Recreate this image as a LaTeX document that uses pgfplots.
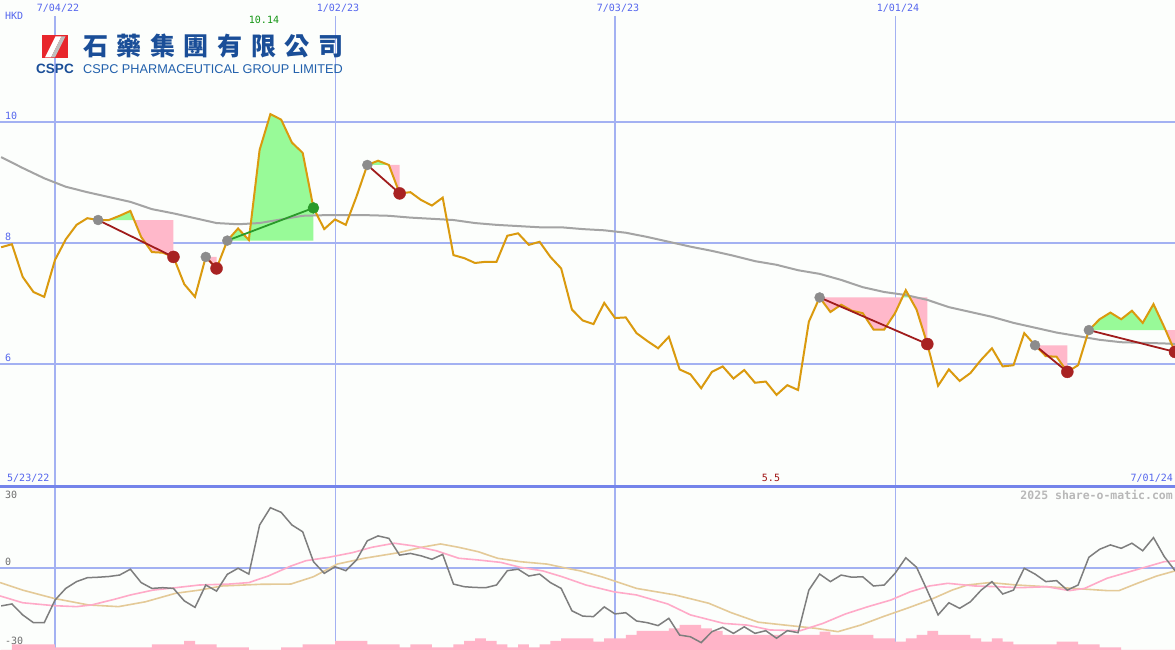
\documentclass[border=0pt]{standalone}
\usepackage{fontspec}
\setmainfont{Liberation Sans}
\newfontfamily\mono{DejaVu Sans Mono}
\newfontfamily\cjk{Noto Sans CJK TC}
\usepackage{pgfplots}
\pgfplotsset{compat=1.18}
\usepackage{pgfplotstable}

\definecolor{bgc}{HTML}{FCFEFC}
\definecolor{gridc}{HTML}{A3B1F2}
\definecolor{sepc}{HTML}{7484EA}
\definecolor{labc}{HTML}{5566EE}
\definecolor{pricec}{HTML}{DA9A0E}
\definecolor{mac}{HTML}{A4A4A4}
\definecolor{upc}{HTML}{98FA98}
\definecolor{dnc}{HTML}{FFB8CA}
\definecolor{sellc}{HTML}{A01C1C}
\definecolor{redm}{HTML}{A82222}
\definecolor{graym}{HTML}{8C8C8C}
\definecolor{buyc}{HTML}{2A9A2A}
\definecolor{oscc}{HTML}{7E7E7E}
\definecolor{osctwo}{HTML}{FFAAC8}
\definecolor{oscthree}{HTML}{E4CA98}
\definecolor{volc}{HTML}{FFB4C8}
\definecolor{logor}{HTML}{E8262C}
\definecolor{logob}{HTML}{1A4E98}
\definecolor{logobb}{HTML}{2160AC}

% weekly close, w = weeks after 7/04/22
\pgfplotstableread{
w p
-5 7.93
-4 7.98
-3 7.44
-2 7.19
-1 7.11
0 7.72
1 8.06
2 8.30
3 8.41
4 8.38
5 8.38
6 8.45
7 8.53
8 8.10
9 7.85
10 7.84
11 7.77
12 7.32
13 7.11
14 7.77
15 7.58
16 8.04
17 8.24
18 8.05
19 9.54
20 10.13
21 10.04
22 9.66
23 9.49
24 8.58
25 8.23
26 8.39
27 8.30
28 8.77
29 9.29
30 9.36
31 9.29
32 8.82
33 8.84
34 8.71
35 8.62
36 8.75
37 7.80
38 7.75
39 7.67
40 7.69
41 7.69
42 8.12
43 8.16
44 7.97
45 8.02
46 7.77
47 7.58
48 6.90
49 6.72
50 6.66
51 7.01
52 6.76
53 6.77
54 6.51
55 6.38
56 6.26
57 6.45
58 5.91
59 5.83
60 5.60
61 5.87
62 5.96
63 5.76
64 5.90
65 5.69
66 5.71
67 5.49
68 5.65
69 5.57
70 6.70
71 7.10
72 6.86
73 6.98
74 6.88
75 6.84
76 6.57
77 6.57
78 6.84
79 7.22
80 6.90
81 6.33
82 5.64
83 5.91
84 5.72
85 5.85
86 6.07
87 6.26
88 5.96
89 5.98
90 6.51
91 6.31
92 6.13
93 6.12
94 5.87
95 5.98
96 6.56
97 6.74
98 6.85
99 6.74
100 6.88
101 6.68
102 6.99
103 6.61
104 6.20
}\price

\pgfplotstableread{
w m
-5 9.42
-3 9.24
-1 9.07
1 8.93
3 8.84
5 8.76
7 8.68
9 8.56
11 8.49
13 8.41
15 8.33
17 8.31
19 8.33
21 8.39
23 8.45
25 8.46
27 8.46
29 8.46
31 8.45
33 8.42
35 8.40
37 8.38
39 8.33
41 8.30
43 8.28
45 8.26
47 8.26
49 8.23
51 8.21
53 8.17
55 8.10
57 8.02
59 7.94
61 7.87
63 7.79
65 7.70
67 7.64
69 7.55
71 7.49
73 7.39
75 7.27
77 7.19
79 7.14
81 7.06
83 6.94
85 6.86
87 6.78
89 6.68
91 6.60
93 6.52
95 6.46
97 6.40
99 6.36
101 6.35
103 6.34
104 6.33
}\mavg

\pgfplotstableread{
w o
-5 -15.6
-4 -14.8
-3 -19.3
-2 -22.5
-1 -22.5
0 -13.2
1 -8.4
2 -5.6
3 -4.0
4 -3.8
5 -3.5
6 -2.9
7 -0.5
8 -6.0
9 -8.4
10 -8.1
11 -8.4
12 -13.5
13 -16.2
14 -7.0
15 -9.5
16 -2.6
17 -0.1
18 -2.5
19 17.7
20 24.8
21 22.9
22 17.7
23 14.9
24 2.6
25 -2.2
26 0.5
27 -1.1
28 3.3
29 11.2
30 13.2
31 12.2
32 5.3
33 6.0
34 5.0
35 3.6
36 5.6
37 -6.6
38 -7.7
39 -8.0
40 -8.1
41 -7.0
42 -1.1
43 -0.5
44 -3.3
45 -2.5
46 -6.0
47 -8.4
48 -17.6
49 -19.8
50 -20.0
51 -16.0
52 -18.9
53 -18.4
54 -21.8
55 -22.5
56 -23.7
57 -20.7
58 -27.6
59 -28.3
60 -30.7
61 -26.2
62 -24.4
63 -26.9
64 -24.2
65 -26.9
66 -25.8
67 -28.9
68 -25.8
69 -26.6
70 -9.1
71 -2.5
72 -5.6
73 -2.9
74 -3.8
75 -3.6
76 -7.4
77 -7.0
78 -2.2
79 4.2
80 0.3
81 -9.3
82 -19.3
83 -14.3
84 -16.6
85 -13.9
86 -9.1
87 -5.6
88 -10.7
89 -9.1
90 -0.1
91 -2.5
92 -5.6
93 -5.2
94 -9.1
95 -7.0
96 4.4
97 7.7
98 9.5
99 8.1
100 10.2
101 7.1
102 12.5
103 4.7
104 -1.1
}\osc

\pgfplotstableread{
w s
-5.1 -11.5
-3.0 -14.3
-0.1 -15.5
2.0 -15.9
3.4 -15.2
5.5 -12.9
7.0 -11.1
9.1 -9.1
11.2 -8.1
13.4 -7.0
16.2 -6.6
18.0 -6.0
19.8 -3.3
21.9 0.8
23.3 3.0
25.4 4.4
27.6 6.3
29.4 8.5
31.5 10.2
33.3 9.1
35.4 7.1
37.5 4.0
39.3 3.3
41.4 2.3
43.2 0.3
45.3 -1.2
47.1 -3.6
49.3 -7.0
51.9 -9.8
54.0 -11.1
56.9 -14.8
59.0 -19.3
62.1 -22.8
64.3 -23.5
66.4 -25.5
69.2 -25.8
71.3 -22.8
73.4 -18.9
75.5 -15.9
77.6 -13.2
79.4 -9.8
81.2 -7.4
82.9 -6.3
85.4 -7.4
87.5 -7.7
89.6 -8.1
92.1 -7.7
94.2 -9.3
95.6 -8.4
97.7 -4.2
99.8 -1.5
101.6 0.8
103.0 2.6
104.0 2.9
}\sigfast

\pgfplotstableread{
w s
-5.1 -6.0
-3.0 -9.1
-0.1 -12.5
3.1 -15.2
5.9 -15.9
8.4 -13.9
11.2 -10.4
13.4 -9.1
15.5 -7.4
19.1 -6.7
21.9 -6.6
24.0 -3.6
26.2 1.6
28.7 4.0
31.9 6.3
34.0 8.5
35.8 9.9
37.5 8.5
39.3 6.7
41.1 4.0
43.2 2.6
45.7 1.6
47.5 -0.1
48.8 -1.2
50.9 -3.8
54.0 -8.4
57.6 -11.1
60.7 -14.5
62.8 -18.4
65.3 -22.3
67.8 -23.5
70.6 -24.8
72.7 -26.2
74.8 -23.5
76.9 -20.0
79.1 -16.6
81.2 -13.2
83.3 -9.1
84.7 -7.0
86.8 -6.0
89.3 -7.0
92.1 -7.7
94.6 -8.4
97.7 -9.3
98.8 -9.3
100.5 -6.3
102.3 -3.3
104.0 -1.2
}\sigslow

\pgfplotstableread{
w v
-5 0
-4 5.7
0 2.7
9 5.7
12 9
13 5.7
15 2.7
18 0
21 2.7
23 5.7
26 9
29 5.7
32 2.7
33 5.7
35 2.7
37 5.7
38 9
39 11.7
40 9
41 5.7
42 2.7
43 5.7
44 2.7
45 5.7
46 9
47 11.7
50 8.3
51 11.7
53 15
54 19
57 21.7
58 25
60 21.7
61 19
62 15
71 18.3
72 15
76 11.7
78 8.3
79 11.7
80 15
81 19
82 15
85 11.7
86 8.3
87 11.7
88 8.3
89 5.7
93 8.3
95 5.7
97 2.7
99 0
105 0
}\vol

\pgfplotsset{panel/.style={scale only axis, width=1175pt,
  xmin=-5.107, xmax=104.0, axis line style={draw=none},
  xtick=\empty, ytick=\empty, clip=true}}

\begin{document}
\begin{tikzpicture}
\fill[bgc] (0pt,0pt) rectangle (1175pt,650pt);

% volume panel (with vertical grid underneath)
\begin{axis}[panel, at={(0pt,0pt)}, anchor=south west, height=163pt, ymin=0, ymax=163]
  \draw[gridc, line width=1.5pt] (axis cs:0,0) -- (axis cs:0,163);
  \draw[gridc, line width=1pt] (axis cs:26,0) -- (axis cs:26,163);
  \draw[gridc, line width=1.5pt] (axis cs:52,0) -- (axis cs:52,163);
  \draw[gridc, line width=1pt] (axis cs:78,0) -- (axis cs:78,163);
  \addplot[const plot, fill=volc, draw=none] table[x=w,y=v]{\vol} \closedcycle;
\end{axis}

% oscillator panel
\begin{axis}[panel, at={(0pt,0pt)}, anchor=south west, height=163pt, ymin=-33.74, ymax=33.33]
  \draw[gridc, line width=2.5pt] (axis cs:-6,0) -- (axis cs:105,0);
  \addplot[oscthree, line width=1.6pt] table[x=w,y=s]{\sigslow};
  \addplot[osctwo, line width=1.6pt] table[x=w,y=s]{\sigfast};
  \addplot[oscc, line width=1.5pt] table[x=w,y=o]{\osc};
\end{axis}

% price panel
\begin{axis}[panel, at={(0pt,163pt)}, anchor=south west, height=487pt, ymin=3.967, ymax=12.017]
  \draw[gridc, line width=2.5pt] (axis cs:-6,10) -- (axis cs:105,10);
  \draw[gridc, line width=2.5pt] (axis cs:-6,8) -- (axis cs:105,8);
  \draw[gridc, line width=2.5pt] (axis cs:-6,6) -- (axis cs:105,6);
  \draw[gridc, line width=2pt] (axis cs:0,3.9) -- (axis cs:0,11.75);
  \draw[gridc, line width=1pt] (axis cs:26,3.9) -- (axis cs:26,11.75);
  \draw[gridc, line width=2pt] (axis cs:52,3.9) -- (axis cs:52,11.75);
  \draw[gridc, line width=1pt] (axis cs:78,3.9) -- (axis cs:78,11.75);

  % gain / loss areas against each entry level
  \addplot[fill=upc, draw=none] coordinates {(4,8.38)(5,8.38)(6,8.45)(7,8.53)(7.35,8.38)};
  \addplot[fill=dnc, draw=none] coordinates {(7.35,8.38)(8,8.10)(9,7.85)(10,7.84)(11,7.77)(11,8.38)};
  \addplot[fill=dnc, draw=none] coordinates {(14,7.77)(15,7.58)(15,7.77)};
  \addplot[fill=upc, draw=none] coordinates {(16,8.04)(17,8.24)(18,8.05)(19,9.54)(20,10.13)(21,10.04)(22,9.66)(23,9.49)(24,8.58)(24,8.04)};
  \addplot[fill=upc, draw=none] coordinates {(29,9.29)(30,9.36)(31,9.29)};
  \addplot[fill=dnc, draw=none] coordinates {(31,9.29)(32,8.82)(32,9.29)};
  \addplot[fill=dnc, draw=none] coordinates {(71,7.10)(72,6.86)(73,6.98)(74,6.88)(75,6.84)(76,6.57)(77,6.57)(78,6.84)(78.68,7.10)};
  \addplot[fill=upc, draw=none] coordinates {(78.68,7.10)(79,7.22)(79.38,7.10)};
  \addplot[fill=dnc, draw=none] coordinates {(79.38,7.10)(80,6.90)(81,6.33)(81,7.10)};
  \addplot[fill=dnc, draw=none] coordinates {(91,6.31)(92,6.13)(93,6.12)(94,5.87)(94,6.31)};
  \addplot[fill=upc, draw=none] coordinates {(96,6.56)(97,6.74)(98,6.85)(99,6.74)(100,6.88)(101,6.68)(102,6.99)(103,6.61)(103.12,6.56)};
  \addplot[fill=dnc, draw=none] coordinates {(103.12,6.56)(104,6.20)(104,6.56)};

  \addplot[mac, line width=2pt] table[x=w,y=m]{\mavg};
  \addplot[pricec, line width=2pt] table[x=w,y=p]{\price};

  % trade lines
  \addplot[sellc, line width=1.8pt] coordinates {(4,8.38)(11,7.77)};
  \addplot[sellc, line width=1.8pt] coordinates {(14,7.77)(15,7.58)};
  \addplot[buyc, line width=1.8pt] coordinates {(16,8.04)(24,8.58)};
  \addplot[sellc, line width=1.8pt] coordinates {(29,9.29)(32,8.82)};
  \addplot[sellc, line width=1.8pt] coordinates {(71,7.10)(81,6.33)};
  \addplot[sellc, line width=1.8pt] coordinates {(91,6.31)(94,5.87)};
  \addplot[sellc, line width=1.8pt] coordinates {(96,6.56)(104,6.20)};

  \addplot[only marks, mark=*, mark size=5pt, mark options={draw=graym, fill=graym}]
    coordinates {(4,8.38)(14,7.77)(16,8.04)(29,9.29)(71,7.10)(91,6.31)(96,6.56)};
  \addplot[only marks, mark=*, mark size=6pt, mark options={draw=redm, fill=redm}]
    coordinates {(11,7.77)(15,7.58)(32,8.82)(81,6.33)(94,5.87)(104,6.20)};
  \addplot[only marks, mark=*, mark size=5.5pt, mark options={draw=buyc, fill=buyc}]
    coordinates {(24,8.58)};
\end{axis}

% separator between panels
\draw[sepc, line width=3pt] (0pt,163pt) -- (1175pt,163pt);

% labels
\begin{scope}[every node/.style={inner sep=0pt, font=\mono\fontsize{10}{12}\selectfont, text=labc}]
  \node at (58pt,642pt) {7/04/22};
  \node at (338pt,642pt) {1/02/23};
  \node at (618pt,642pt) {7/03/23};
  \node at (898pt,642pt) {1/01/24};
  \node[anchor=west] at (5pt,634pt) {HKD};
  \node[anchor=west] at (5pt,534pt) {10};
  \node[anchor=west] at (5pt,413pt) {8};
  \node[anchor=west] at (5pt,292pt) {6};
  \node[text={rgb,255:red,20;green,150;blue,20}] at (264pt,630pt) {10.14};
  \node[anchor=west] at (7pt,172pt) {5/23/22};
  \node[anchor=east] at (1173pt,172pt) {7/01/24};
  \node[text={rgb,255:red,160;green,20;blue,20}] at (771pt,172pt) {5.5};
  \node[anchor=east, text={rgb,255:red,184;green,184;blue,184}, font=\mono\bfseries\fontsize{11.5}{13}\selectfont] at (1173pt,155pt) {2025 share-o-matic.com};
  \node[anchor=west, text={rgb,255:red,110;green,110;blue,110}] at (5pt,155pt) {30};
  \node[anchor=west, text={rgb,255:red,110;green,110;blue,110}] at (5pt,88pt) {0};
  \node[anchor=west, text={rgb,255:red,110;green,110;blue,110}] at (5pt,9pt) {-30};
\end{scope}

% company logo
\fill[logor] (41.7pt,591.7pt) rectangle (68.3pt,615pt);
\fill[white] (45pt,592.5pt) -- (51pt,592.5pt) -- (61.5pt,613.5pt) -- (55.5pt,613.5pt) -- cycle;
\fill[black!25] (51pt,592.5pt) -- (55pt,592.5pt) -- (65.5pt,613.5pt) -- (61.5pt,613.5pt) -- cycle;
\node[inner sep=0pt, text=logob, font=\bfseries\fontsize{13.5}{15}\selectfont] at (55pt,581pt) {CSPC};
\node[inner sep=0pt, anchor=west, text=logob, font=\cjk\bfseries\fontsize{25}{28}\selectfont] at (83pt,603.5pt)
  {\hbox to 260pt{石\hfil 藥\hfil 集\hfil 團\hfil 有\hfil 限\hfil 公\hfil 司}};
\node[inner sep=0pt, anchor=west, text=logobb, font=\fontsize{12.7}{14}\selectfont] at (83pt,581pt) {CSPC PHARMACEUTICAL GROUP LIMITED};

\pgfresetboundingbox
\useasboundingbox (0pt,0pt) rectangle (1175pt,650pt);
\end{tikzpicture}
\end{document}
